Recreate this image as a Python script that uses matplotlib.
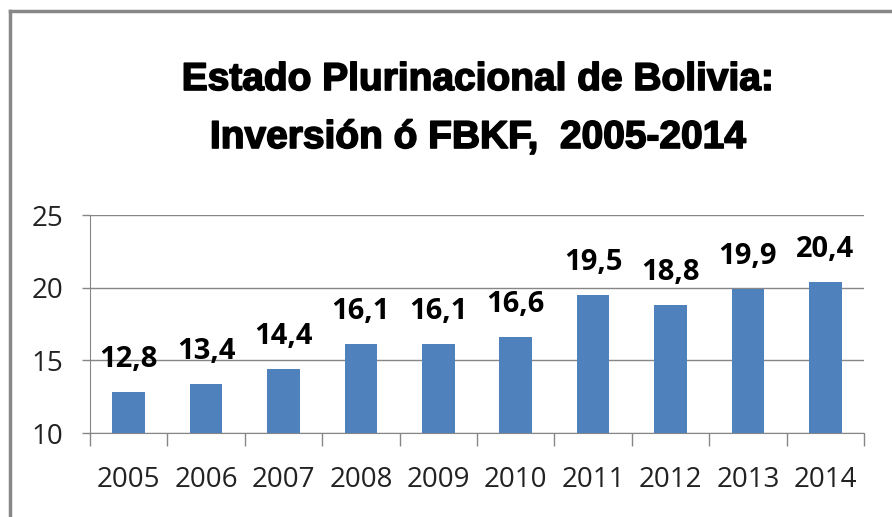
import matplotlib.pyplot as plt
import matplotlib.patheffects as pe
from matplotlib.lines import Line2D

years = ['2005', '2006', '2007', '2008', '2009', '2010', '2011', '2012', '2013', '2014']
values = [12.8, 13.4, 14.4, 16.1, 16.1, 16.6, 19.5, 18.8, 19.9, 20.4]
yticks = [10, 15, 20, 25]

fig = plt.figure(figsize=(8.92, 5.17), dpi=100)
ax = fig.add_axes([90/892, 1-433/517, (864-90)/892, (433-215)/517])

x = range(len(years))
ax.bar(x, values, width=0.42, color='#4F81BD', zorder=3)
ax.set_ylim(10, 25)
ax.set_xlim(-0.5, len(years)-0.5)
ax.set_yticks(yticks)
ax.set_yticklabels([str(t) for t in yticks], fontsize=20, family='Open Sans', color='#222222')
ax.set_xticks(list(x))
ax.set_xticklabels(years, fontsize=20, family='Open Sans', color='#222222')
ax.tick_params(axis='x', length=0, pad=24)
ax.tick_params(axis='y', length=6, width=1, color='#868686', pad=13)
# category boundary ticks
ax.set_xticks([i - 0.5 for i in range(len(years)+1)], minor=True)
ax.tick_params(axis='x', which='minor', length=9, width=1, color='#868686')

ax.grid(axis='y', color='#868686', linewidth=1, zorder=0)
for s in ['top', 'right']:
    ax.spines[s].set_visible(False)
for s in ['left', 'bottom']:
    ax.spines[s].set_color('#868686')

for i, v in enumerate(values):
    ax.annotate(f'{v:.1f}'.replace('.', ','), (i, v), xytext=(0, 18), textcoords='offset points',
                ha='center', va='baseline', fontsize=21, fontweight='bold', family='Open Sans')

heavy = [pe.withStroke(linewidth=1.2, foreground='black')]
fig.text(478/892, 1-80/517, 'Estado Plurinacional de Bolivia:', ha='center', va='center',
         fontsize=28, fontweight='bold', family='Liberation Sans', path_effects=heavy)
fig.text(478/892, 1-138/517, 'Inversión ó FBKF,  2005-2014', ha='center', va='center',
         fontsize=28, fontweight='bold', family='Liberation Sans', path_effects=heavy)

# outer chart frame (left and top edges visible)
fig.add_artist(Line2D([10/892, 10/892], [0, 1-11/517], color='#888888', linewidth=2.5, transform=fig.transFigure))
fig.add_artist(Line2D([10/892, 1], [1-11/517, 1-11/517], color='#888888', linewidth=2.5, transform=fig.transFigure))

fig.savefig('out.png', dpi=100)
